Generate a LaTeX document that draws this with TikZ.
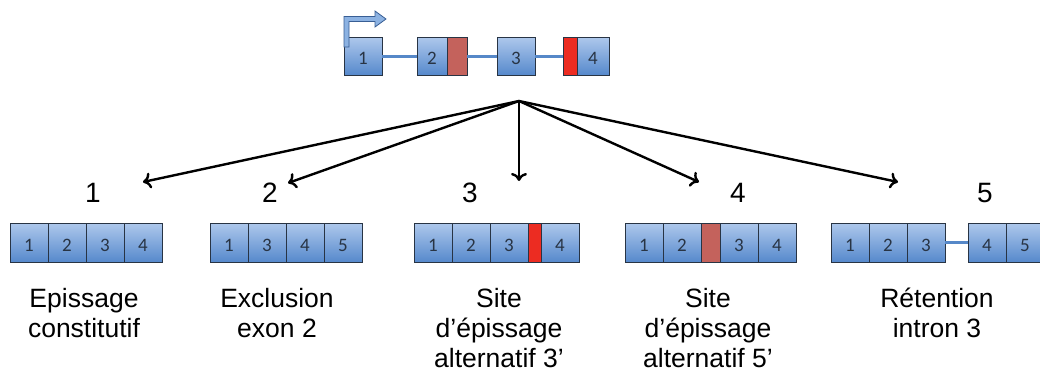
\documentclass[tikz,border=0pt]{standalone}
\usepackage{fontspec}
\setmainfont{Liberation Sans}
\newfontfamily\exonfont[Numbers=Lining]{Carlito}
\usepackage{tikz}
\usetikzlibrary{arrows.meta}
\usetikzlibrary{positioning}
\definecolor{exontop}{RGB}{174, 200, 236}
\definecolor{exonbottom}{RGB}{86, 137, 204}
\definecolor{exonedge}{RGB}{40, 52, 68}
\definecolor{intronblue}{RGB}{86, 136, 200}
\definecolor{splicepale}{RGB}{196, 98, 92}
\definecolor{splicered}{RGB}{236, 44, 34}
\definecolor{promoterblue}{RGB}{140, 178, 226}
\definecolor{promoteredge}{RGB}{56, 94, 148}

\begin{document}
\begin{tikzpicture}[x=1pt, y=-1pt,
    exon/.style={draw=exonedge, line width=0.9pt, top color=exontop, bottom color=exonbottom,
                 minimum width=38pt, minimum height=39pt, inner sep=0pt, outer sep=0pt,
                 text height=17pt, text depth=0pt, text=exonedge, font=\exonfont\fontsize{19}{19}\selectfont},
    splice/.style={draw=exonedge, line width=0.9pt, minimum height=39pt, inner sep=0pt, outer sep=0pt},
    intron/.style={draw=intronblue, line width=3pt},
    isoform/.style={draw=black, line width=2.4pt, -{To[length=8pt, width=16pt, line width=2.4pt]}},
    casenum/.style={inner sep=0pt, font=\fontsize{28}{28}\selectfont},
    caselabel/.style={inner sep=0pt, align=center, font=\fontsize{26.5}{30}\selectfont}]
            \useasboundingbox (0, 0) rectangle (1040, 372);
            % pre-messenger
            \node[exon, minimum height=38pt]                          (g1)  at (363, 56) {1};
            \node[exon, minimum height=38pt, minimum width=30pt]      (g2)  at (432, 56) {2};
            \node[splice, minimum height=38pt, minimum width=20pt, fill=splicepale] (g2r) [right=0pt of g2] {};
            \node[exon, minimum height=38pt]                          (g3)  at (516, 56) {3};
            \node[splice, minimum height=38pt, minimum width=14pt, fill=splicered]  (g4r) at (570, 56) {};
            \node[exon, minimum height=38pt, minimum width=32pt]      (g4)  [right=0pt of g4r] {4};
            \draw[intron] (g1) -- (g2);
            \draw[intron] (g2r) -- (g3);
            \draw[intron] (g3) -- (g4r);
            \filldraw[promoteredge, fill=promoterblue, line width=0.8pt]
                 (344, 47) -- (344, 16.5) -- (375, 16.5) -- (375, 11) -- (386, 19)
                 -- (375, 27) -- (375, 21.5) -- (349, 21.5) -- (349, 47) -- cycle;
            % arrows
            \coordinate (hub) at (519, 101);
            \coordinate (t1)  at (143, 182);
            \coordinate (t2)  at (288, 183);
            \coordinate (t3)  at (519, 181);
            \coordinate (t4)  at (699, 182);
            \coordinate (t5)  at (898, 182);
            \draw[isoform] (hub) -- (t1);
            \draw[isoform] (hub) -- (t2);
            \draw[isoform] (hub) -- (t3);
            \draw[isoform] (hub) -- (t4);
            \draw[isoform] (hub) -- (t5);
            \node[casenum] (n1) at ( 93, 193) {1};
            \node[casenum] (n2) at (270, 193) {2};
            \node[casenum] (n3) at (470, 193) {3};
            \node[casenum] (n4) at (738, 193) {4};
            \node[casenum] (n5) at (985, 193) {5};
            % 1: epissage constitutif
            \node[exon] (a1) at ( 29, 242.5) {1};
            \node[exon] (a2) [right=0pt of a1] {2};
            \node[exon] (a3) [right=0pt of a2] {3};
            \node[exon] (a4) [right=0pt of a3] {4};
            % 2: exclusion exon 2
            \node[exon] (b1) at (229, 242.5) {1};
            \node[exon] (b2) [right=0pt of b1] {3};
            \node[exon] (b3) [right=0pt of b2] {4};
            \node[exon] (b4) [right=0pt of b3] {5};
            % 3: site alternatif 3'
            \node[exon] (c1) at (433, 242.5) {1};
            \node[exon] (c2) [right=0pt of c1] {2};
            \node[exon] (c3) [right=0pt of c2] {3};
            \node[splice, minimum width=13pt, fill=splicered] (c3r) [right=0pt of c3] {};
            \node[exon] (c4) [right=0pt of c3r] {4};
            % 4: site alternatif 5'
            \node[exon] (d1) at (644, 242.5) {1};
            \node[exon] (d2) [right=0pt of d1] {2};
            \node[splice, minimum width=19pt, fill=splicepale] (d2r) [right=0pt of d2] {};
            \node[exon] (d3) [right=0pt of d2r] {3};
            \node[exon] (d4) [right=0pt of d3] {4};
            % 5: retention intron 3
            \node[exon] (e1) at (850, 242.5) {1};
            \node[exon] (e2) [right=0pt of e1] {2};
            \node[exon] (e3) [right=0pt of e2] {3};
            \node[exon] (e4) at (987, 242.5) {4};
            \node[exon] (e5) [right=0pt of e4] {5};
            \draw[intron] (e3) -- (e4);
            % labels (base = last line)
            \node[caselabel, anchor=base] (l1) at ( 84, 337) {Epissage\\constitutif};
            \node[caselabel, anchor=base] (l2) at (277, 337) {Exclusion\\exon 2};
            \node[caselabel, anchor=base] (l3) at (499, 367) {Site\\d’épissage\\alternatif 3’};
            \node[caselabel, anchor=base] (l4) at (708, 367) {Site\\d’épissage\\alternatif 5’};
            \node[caselabel, anchor=base] (l5) at (937, 337) {Rétention\\intron 3};
\end{tikzpicture}
\end{document}
